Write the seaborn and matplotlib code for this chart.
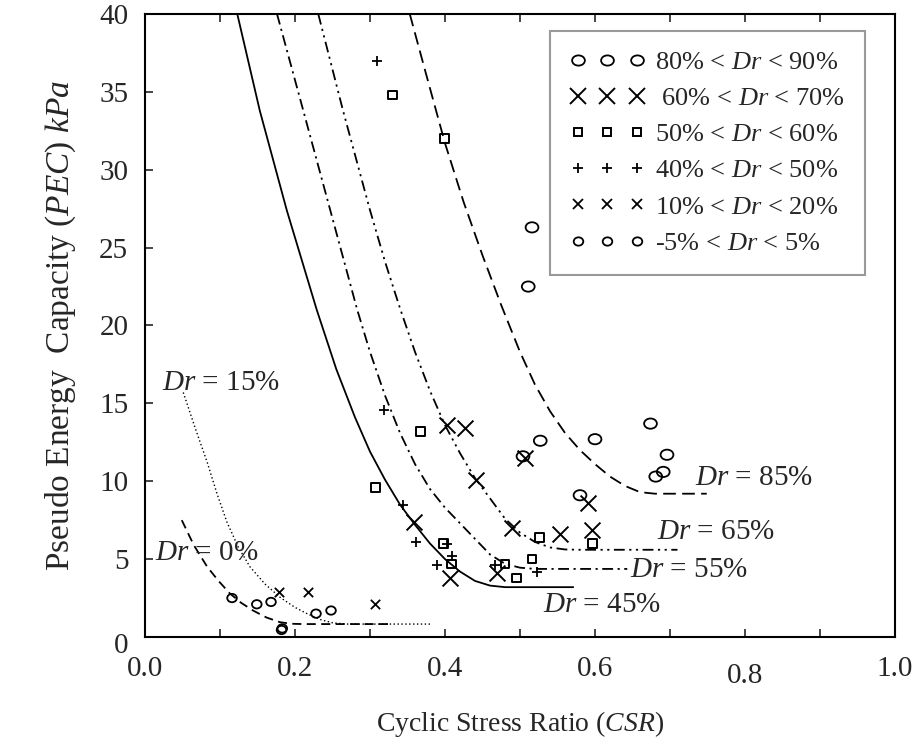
import matplotlib
matplotlib.use("Agg")
import matplotlib.pyplot as plt
import matplotlib.transforms as mtransforms
from matplotlib.lines import Line2D
from matplotlib.path import Path
import seaborn as sns

# ---- data ----
# fitted curves (CSR, PEC)
dr45_x = [0.123, 0.153, 0.189, 0.229, 0.255, 0.28, 0.30, 0.32, 0.34, 0.36, 0.38, 0.40, 0.42, 0.44, 0.46, 0.48, 0.571]
dr45_y = [40, 33.8, 27.4, 21.0, 17.2, 14.1, 11.9, 10.1, 8.5, 7.2, 6.0, 5.0, 4.2, 3.6, 3.3, 3.2, 3.2]
dr55_x = [0.176, 0.211, 0.247, 0.283, 0.30, 0.32, 0.34, 0.36, 0.38, 0.40, 0.42, 0.44, 0.46, 0.48, 0.50, 0.52, 0.643]
dr55_y = [40, 33.8, 27.4, 21.0, 18.3, 15.5, 13.1, 11.1, 9.5, 8.3, 7.3, 6.3, 5.3, 4.7, 4.45, 4.37, 4.37]
dr65_x = [0.231, 0.264, 0.30, 0.32, 0.34, 0.36, 0.38, 0.40, 0.42, 0.44, 0.46, 0.48, 0.50, 0.52, 0.54, 0.56, 0.58, 0.71]
dr65_y = [40, 33.8, 27.4, 24.1, 21.1, 18.3, 15.8, 13.6, 11.8, 10.2, 8.9, 7.6, 6.7, 6.1, 5.75, 5.62, 5.6, 5.6]
dr85_x = [0.353, 0.375, 0.40, 0.425, 0.45, 0.475, 0.50, 0.52, 0.54, 0.56, 0.58, 0.60, 0.62, 0.64, 0.66, 0.68, 0.749]
dr85_y = [40, 36.1, 31.7, 27.9, 24.5, 21.3, 18.3, 16.2, 14.5, 13.1, 12.0, 11.1, 10.3, 9.7, 9.3, 9.2, 9.2]
dr0_x = [0.049, 0.065, 0.083, 0.098, 0.113, 0.128, 0.144, 0.162, 0.18, 0.195, 0.21, 0.33]
dr0_y = [7.5, 5.9, 4.5, 3.6, 2.8, 2.2, 1.7, 1.25, 0.95, 0.85, 0.83, 0.83]
dr15_x = [0.051, 0.067, 0.083, 0.096, 0.109, 0.124, 0.14, 0.16, 0.18, 0.20, 0.216, 0.235, 0.251, 0.27, 0.38]
dr15_y = [15.7, 13.4, 11.2, 9.2, 7.4, 5.8, 4.5, 3.4, 2.55, 1.9, 1.5, 1.1, 0.9, 0.83, 0.83]

# test points
d80_x = [0.516, 0.511, 0.674, 0.527, 0.60, 0.504, 0.696, 0.691, 0.681, 0.58]
d80_y = [26.3, 22.5, 13.7, 12.6, 12.7, 11.6, 11.7, 10.6, 10.3, 9.1]
d60_x = [0.402, 0.427, 0.507, 0.441, 0.591, 0.489, 0.553, 0.596, 0.358, 0.407, 0.469]
d60_y = [13.6, 13.4, 11.5, 10.1, 8.6, 7.0, 6.6, 6.9, 7.4, 3.8, 4.1]
d50_x = [0.33, 0.399, 0.367, 0.307, 0.398, 0.409, 0.48, 0.495, 0.516, 0.526, 0.597]
d50_y = [34.8, 32.0, 13.2, 9.6, 6.0, 4.7, 4.7, 3.8, 5.0, 6.4, 6.0]
d40_x = [0.309, 0.318, 0.344, 0.361, 0.389, 0.409, 0.402, 0.466, 0.523]
d40_y = [37.0, 14.6, 8.5, 6.1, 4.6, 5.2, 6.0, 4.6, 4.2]
d10_x = [0.179, 0.217, 0.307]
d10_y = [2.9, 2.9, 2.1]
d0_x = [0.116, 0.149, 0.168, 0.182, 0.183, 0.228, 0.248]
d0_y = [2.5, 2.1, 2.25, 0.45, 0.55, 1.5, 1.7]

labels = ["80% < $Dr$ < 90%", " 60% < $Dr$ < 70%", "50% < $Dr$ < 60%",
          "40% < $Dr$ < 50%", "10% < $Dr$ < 20%", "-5% < $Dr$ < 5%"]

xticks = [0.0, 0.1, 0.2, 0.3, 0.4, 0.5, 0.6, 0.7, 0.8, 0.9, 1.0]
xticklabels = ["0.0", "", "0.2", "", "0.4", "", "0.6", "", "0.8", "", "1.0"]
yticks = [0, 5, 10, 15, 20, 25, 30, 35, 40]

sns.set_style("ticks")
plt.rcParams["font.family"] = ["Liberation Serif", "DejaVu Serif"]
plt.rcParams["mathtext.fontset"] = "custom"
plt.rcParams["mathtext.rm"] = "Liberation Serif"
plt.rcParams["mathtext.it"] = "Liberation Serif:italic"

# slightly flattened circles, as drawn in the original
big_o = Path.unit_circle().transformed(mtransforms.Affine2D().scale(1.25, 1.0))
small_o = Path.unit_circle().transformed(mtransforms.Affine2D().scale(1.15, 1.0))

fig = plt.figure(figsize=(9.22, 7.40), dpi=100)
ax = fig.add_axes([0.1573, 0.1392, 0.8134, 0.8419])

# curves
line_kw = dict(sort=False, estimator=None, color="black", ax=ax)
sns.lineplot(x=dr45_x, y=dr45_y, lw=1.3, **line_kw)
sns.lineplot(x=dr55_x, y=dr55_y, lw=1.3, linestyle=(0, (6, 2.5, 1.2, 2.5)), **line_kw)
sns.lineplot(x=dr65_x, y=dr65_y, lw=1.3, linestyle=(0, (6, 2.5, 1.2, 2.5, 1.2, 2.5)), **line_kw)
sns.lineplot(x=dr85_x, y=dr85_y, lw=1.3, linestyle=(0, (7, 3.5)), **line_kw)
sns.lineplot(x=dr0_x, y=dr0_y, lw=1.3, linestyle=(0, (5, 3)), **line_kw)
sns.lineplot(x=dr15_x, y=dr15_y, lw=1.0, linestyle=(0, (1, 1.8)), **line_kw)

# points
sns.scatterplot(x=d80_x, y=d80_y, marker=big_o, s=85, facecolor="none", edgecolor="black",
                linewidth=1.3, ax=ax)
sns.scatterplot(x=d60_x, y=d60_y, marker="x", s=130, color="black", linewidth=1.4, ax=ax)
sns.scatterplot(x=d50_x, y=d50_y, marker="s", s=38, facecolor="none", edgecolor="black",
                linewidth=1.4, ax=ax)
sns.scatterplot(x=d40_x, y=d40_y, marker="+", s=55, color="black", linewidth=1.3, ax=ax)
sns.scatterplot(x=d10_x, y=d10_y, marker="x", s=45, color="black", linewidth=1.3, ax=ax)
sns.scatterplot(x=d0_x, y=d0_y, marker=small_o, s=48, facecolor="none", edgecolor="black",
                linewidth=1.3, ax=ax)

# curve labels
txt = dict(fontsize=21, va="center", ha="left")
ax.text(0.733, 10.2, "$Dr$ = 85%", **txt)
ax.text(0.683, 6.75, "$Dr$ = 65%", **txt)
ax.text(0.647, 4.3, "$Dr$ = 55%", **txt)
ax.text(0.531, 2.05, "$Dr$ = 45%", **txt)
ax.text(0.023, 16.3, "$Dr$ = 15%", **txt)
ax.text(0.013, 5.4, "$Dr$ = 0%", **txt)

ax.set_xlim(0, 1.0)
ax.set_ylim(0, 40)
ax.set_xticks(xticks)
ax.set_xticklabels(xticklabels)
ax.set_yticks(yticks)
ax.tick_params(direction="in", length=6, width=1.2, labelsize=21, top=True)
ax.tick_params(axis="x", pad=14)
ax.tick_params(axis="y", pad=12)
for sp in ax.spines.values():
    sp.set_linewidth(1.5)
    sp.set_color("black")

ax.set_xlabel("Cyclic Stress Ratio ($CSR$)", fontsize=20, labelpad=14)
ax.set_ylabel("Pseudo Energy  Capacity ($PEC$) $kPa$", fontsize=24, labelpad=15)

# small offsets of a couple of tick labels as in the reference
for lab in ax.get_xticklabels():
    if lab.get_text() == "0.8":
        lab.set_transform(lab.get_transform() + mtransforms.ScaledTranslation(0, -5 / 72, fig.dpi_scale_trans))
for lab in ax.get_yticklabels():
    if lab.get_text() == "0":
        lab.set_transform(lab.get_transform() + mtransforms.ScaledTranslation(0, -4 / 72, fig.dpi_scale_trans))

# legend with three evenly spaced markers per entry
mk = dict(linestyle="none", color="black", markerfacecolor="none", markeredgecolor="black")
handles = [
    Line2D([], [], marker=big_o, markersize=9.2, markeredgewidth=1.3, **mk),
    Line2D([], [], marker="x", markersize=11.4, markeredgewidth=1.4, **mk),
    Line2D([], [], marker="s", markersize=6.2, markeredgewidth=1.4, **mk),
    Line2D([], [], marker="+", markersize=7.4, markeredgewidth=1.3, **mk),
    Line2D([], [], marker="x", markersize=6.7, markeredgewidth=1.3, **mk),
    Line2D([], [], marker=small_o, markersize=6.9, markeredgewidth=1.3, **mk),
]
leg = ax.legend(handles, labels, loc="upper left", bbox_to_anchor=(0.54, 0.973), borderaxespad=0,
                fontsize=19, numpoints=3, frameon=True, fancybox=False,
                framealpha=1, edgecolor="#999999", labelspacing=0.48,
                handlelength=2.83, handletextpad=0.4, borderpad=0.75)
leg.get_frame().set_linewidth(1.5)

fig.savefig("out.png", dpi=100)
